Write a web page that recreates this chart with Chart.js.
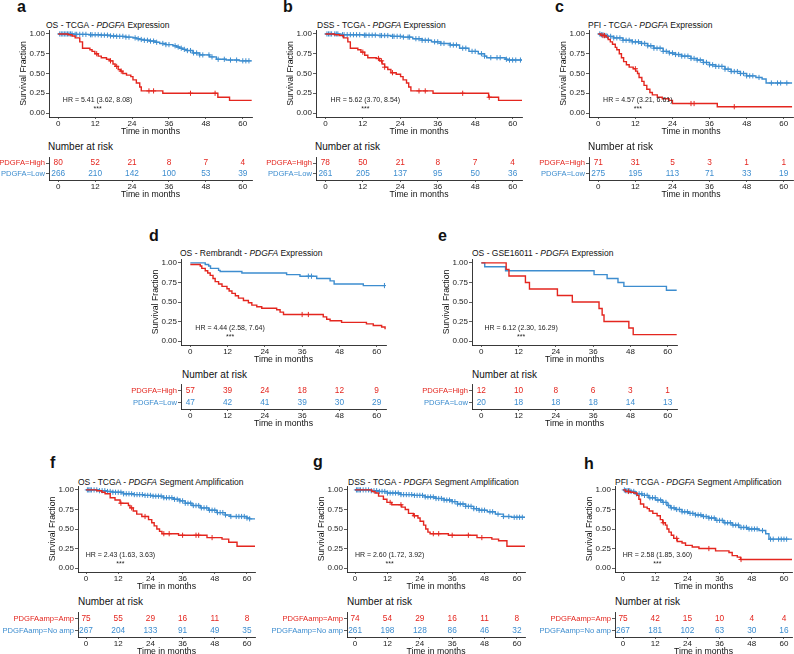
<!DOCTYPE html>
<html>
<head>
<meta charset="utf-8">
<script src="https://cdn.jsdelivr.net/npm/chart.js@4.4.1/dist/chart.umd.min.js"></script>
<style>
    body { margin: 0; background: #fff; }
    #fig { position: relative; width: 794px; height: 654px; overflow: hidden;
           font-family: "Liberation Sans", Arial, sans-serif; color: #111; }
    #fig canvas { position: absolute; }
    .letter { position: absolute; font-size: 16px; line-height: 16px; font-weight: bold; }
    .ttl { position: absolute; font-size: 8.5px; line-height: 10px; white-space: nowrap; }
    .nar { position: absolute; font-size: 10px; line-height: 12px; white-space: nowrap; }
</style>
</head>
<body>
<div id="fig"></div>
<script>
/* ======================
   DATA
====================== */
const TIME_TICKS = [0, 12, 24, 36, 48, 60];
const SURV_TICKS = [0, 0.25, 0.5, 0.75, 1];
const RISK_TIMES = [0, 12, 24, 36, 48, 60];

// a - OS TCGA expression
const A_HIGH = [[0,1],[3.2,0.99],[4.5,0.975],[5.5,0.95],[7,0.9],[7.9,0.82],[10.3,0.8],[11,0.78],[11.9,0.75],[13,0.72],[14,0.7],[15.7,0.68],[16.8,0.66],[17.8,0.62],[18.5,0.59],[19.5,0.55],[20.2,0.53],[21,0.5],[22.2,0.48],[23.6,0.46],[24.3,0.42],[25.4,0.38],[26.5,0.33],[27,0.28],[34,0.25],[51.9,0.2],[55.7,0.16],[62.9,0.16]];
const A_LOW = [[0,1],[5,0.995],[10,0.99],[14,0.985],[17,0.975],[19,0.97],[22,0.96],[24.3,0.95],[25.5,0.94],[26.5,0.93],[28,0.92],[29.7,0.91],[31.5,0.895],[33,0.88],[35,0.865],[37.3,0.85],[38.5,0.835],[39.5,0.82],[40.5,0.805],[41.6,0.79],[43.8,0.76],[46,0.735],[49.2,0.71],[51.4,0.68],[54.6,0.67],[58.9,0.66],[62.9,0.66]];
const A_HIGH_CENS = [12.5, 17, 19, 20.5, 29.5, 31, 43, 51];
const A_LOW_CENS = [0.5,1,1.5,2,2.5,3,3.5,4,4.5,5.5,6,7,8,9,10.5,11,12,13,14,15,16,17,18,19,20,21,22,23,25,26,27,28,29,30,31,32,34,35,36,38,39,40,41,42,43,44,45,46,47,49,50,52,54,56,58,60,61,62];
const A_RISK_HIGH = [80, 52, 21, 8, 7, 4];
const A_RISK_LOW = [266, 210, 142, 100, 53, 39];

// b - DSS TCGA expression
const B_HIGH = [[0,1],[2.9,0.99],[4.5,0.98],[5.8,0.95],[7.2,0.9],[8,0.82],[10.4,0.8],[11.4,0.77],[12.6,0.73],[13.6,0.7],[16.3,0.69],[17.4,0.66],[18.2,0.62],[19,0.58],[20,0.55],[21,0.51],[22.7,0.49],[24.1,0.46],[24.9,0.42],[26,0.38],[26.7,0.33],[27.4,0.28],[34.5,0.25],[52.3,0.2],[55.5,0.16],[63,0.16]];
const B_LOW = [[0,1],[5,0.99],[12,0.985],[17,0.98],[21,0.97],[25,0.96],[28,0.94],[31,0.92],[34,0.9],[37,0.88],[40,0.86],[43,0.82],[46,0.78],[49,0.75],[51,0.72],[51.7,0.7],[57.6,0.68],[58.5,0.67],[63,0.67]];
const B_HIGH_CENS = [12, 17, 18, 19, 21.5, 30, 32, 44, 52.5];
const B_LOW_CENS = [0.5,1,1.5,2,3,3.5,4,5.5,6,7,8,9,10,11,12.5,13,14,15,16,17.5,18,19,20,21.5,22,23,24,25,26.5,27,29,30,31,32,33,35,36,37,38,40,41,42,44,45,47,48,50,51,53,55,56,58,59,60,61,62.5];
const B_RISK_HIGH = [78, 50, 21, 8, 7, 4];
const B_RISK_LOW = [261, 205, 137, 95, 50, 36];

// c - PFI TCGA expression
const C_HIGH = [[0,1],[0.9,0.98],[2.5,0.96],[3.2,0.93],[3.9,0.9],[4.6,0.87],[5.5,0.83],[6,0.8],[6.8,0.75],[7.5,0.7],[8.2,0.65],[9.1,0.61],[10,0.58],[11.3,0.56],[12.1,0.53],[12.7,0.5],[13.2,0.45],[14.1,0.4],[14.8,0.35],[15.7,0.3],[16.7,0.26],[17.5,0.23],[19.1,0.2],[20.7,0.18],[22.9,0.16],[24,0.12],[38.5,0.08],[62.7,0.08]];
const C_LOW = [[0,1],[1,0.99],[2,0.98],[3,0.97],[5,0.95],[8,0.92],[11,0.9],[14,0.88],[16,0.85],[18,0.82],[21,0.78],[23,0.76],[25,0.74],[27,0.72],[30,0.69],[32,0.67],[34,0.64],[36,0.61],[38,0.59],[41,0.555],[43,0.525],[46,0.5],[48,0.47],[51,0.45],[53,0.43],[54.3,0.38],[62.7,0.38]];
const C_HIGH_CENS = [1.5, 2, 12, 30, 31, 44];
const C_LOW_CENS = [0.5,1,1.5,2,2.5,3,4,5,6,7,8,9,10,11,12,13,14,15,16,17,18,19,20,21,22,23,24,25,26,27,28,29,30,31,32,33,34,35,36,37,38,39,40,41,42,43,44,45,46,47,48,49,50,52,56,58,59,61];
const C_RISK_HIGH = [71, 31, 5, 3, 1, 1];
const C_RISK_LOW = [275, 195, 113, 71, 33, 19];

// d - OS Rembrandt
const D_HIGH = [[0,0.98],[3.2,0.96],[3.7,0.93],[4.8,0.9],[5.6,0.87],[6.4,0.84],[7.3,0.8],[8,0.76],[9.1,0.73],[10.2,0.7],[11.8,0.67],[12.5,0.64],[13.4,0.61],[14.5,0.58],[15.5,0.55],[17.1,0.52],[18.7,0.49],[19.8,0.46],[21.4,0.44],[23,0.42],[27.8,0.4],[28.9,0.37],[30,0.34],[42.8,0.31],[43.9,0.28],[45,0.26],[48.7,0.24],[56.7,0.22],[58.9,0.2],[61.6,0.18],[62.7,0.15]];
const D_LOW = [[0,1],[4.8,0.98],[5.9,0.96],[6.5,0.93],[9.1,0.905],[9.6,0.89],[16.6,0.87],[31,0.85],[35.3,0.83],[40.7,0.8],[45,0.77],[46.3,0.73],[55.7,0.71],[62.7,0.71]];
const D_HIGH_CENS = [36, 38];
const D_LOW_CENS = [38, 39, 62.5];
const D_RISK_HIGH = [57, 39, 24, 18, 12, 9];
const D_RISK_LOW = [47, 42, 41, 39, 30, 29];

// e - OS GSE16011
const E_HIGH = [[0,1],[8,0.917],[8.9,0.833],[14.2,0.75],[15.5,0.667],[24.5,0.583],[29.3,0.5],[37.9,0.417],[38.9,0.333],[39.5,0.25],[47.5,0.167],[48.9,0.083],[62.9,0.083]];
const E_LOW = [[0,1],[1.1,0.95],[7.8,0.9],[36.3,0.85],[40.5,0.8],[44,0.75],[45.9,0.7],[59.6,0.65],[62.9,0.65]];
const E_HIGH_CENS = [];
const E_LOW_CENS = [];
const E_RISK_HIGH = [12, 10, 8, 6, 3, 1];
const E_RISK_LOW = [20, 18, 18, 18, 14, 13];

// f - OS TCGA amplification
const F_AMP = [[0,1],[4,0.99],[5.9,0.97],[7.1,0.95],[9,0.9],[10.8,0.87],[12.7,0.83],[15.8,0.8],[16.4,0.77],[17.6,0.73],[18.9,0.69],[20.8,0.66],[23.3,0.62],[24.5,0.58],[25.4,0.54],[26.4,0.5],[27.4,0.47],[28.3,0.44],[34.5,0.42],[45.1,0.39],[50.7,0.37],[53.2,0.33],[56.3,0.28],[63,0.28]];
const F_NOAMP = [[0,1],[5,0.99],[8,0.98],[10,0.97],[14,0.95],[17.7,0.94],[21.4,0.93],[25,0.92],[28.9,0.9],[32.6,0.88],[35,0.86],[37,0.83],[39.5,0.8],[42.6,0.77],[45.7,0.74],[48.8,0.71],[51.9,0.68],[53.8,0.66],[60,0.64],[61,0.63],[63,0.63]];
const F_AMP_CENS = [13, 17, 22, 29, 31, 36, 41, 42, 47];
const F_NOAMP_CENS = [0.5,1,1.5,2,3,4,5,6,7,8,9,10,11,12,13,14,15,16,17,18,19,20,21,22,23,24,25,26,27,28,29,30,31,32,33,34,35,36,37,38,39,40,41,42,43,44,45,46,47,48,49,50,51,52,54,56,57,58,59,60,61];
const F_RISK_AMP = [75, 55, 29, 16, 11, 8];
const F_RISK_NOAMP = [267, 204, 133, 91, 49, 35];

// g - DSS TCGA amplification
const G_AMP = [[0,1],[6.2,0.98],[7.4,0.96],[8.7,0.92],[10.5,0.88],[11.8,0.84],[13.6,0.81],[17.3,0.78],[18.6,0.75],[19.8,0.7],[21.6,0.67],[23.3,0.64],[24.1,0.6],[25.4,0.55],[26.2,0.5],[27,0.46],[27.8,0.44],[34.6,0.42],[45.2,0.39],[50.7,0.37],[53.2,0.35],[56.3,0.28],[63,0.28]];
const G_NOAMP = [[0,1],[6,0.99],[9,0.98],[12,0.96],[17,0.94],[22,0.93],[26,0.91],[30,0.89],[33,0.87],[36,0.85],[38,0.82],[41,0.79],[44,0.76],[46,0.74],[49,0.72],[52,0.69],[55,0.66],[58,0.65],[63,0.65]];
const G_AMP_CENS = [13, 17, 22, 29, 31, 36, 42, 47];
const G_NOAMP_CENS = [0.5,1,1.5,2,3,4,5,6,7,8,9,10,11,12,13,14,15,16,17,18,19,20,21,22,23,24,25,26,27,28,29,30,31,32,33,34,35,36,37,38,39,40,41,42,43,44,45,46,47,48,50,51,53,55,57,59,60,61,62];
const G_RISK_AMP = [74, 54, 29, 16, 11, 8];
const G_RISK_NOAMP = [261, 198, 128, 86, 46, 32];

// h - PFI TCGA amplification
const H_AMP = [[0,1],[0.9,0.98],[2.7,0.97],[4,0.96],[5.2,0.93],[5.9,0.88],[6.5,0.82],[7.7,0.78],[9,0.76],[9.8,0.73],[11.1,0.7],[12.7,0.67],[13.9,0.62],[14.8,0.58],[15.8,0.55],[16.4,0.5],[17.1,0.46],[18,0.42],[18.9,0.38],[20.2,0.34],[22,0.32],[23.3,0.29],[25.8,0.27],[28.3,0.25],[34.5,0.22],[39.5,0.2],[40.7,0.16],[42.6,0.14],[43.8,0.11],[63,0.11]];
const H_NOAMP = [[0,1],[1,0.99],[3,0.98],[4.6,0.95],[7.1,0.93],[9.6,0.9],[12.1,0.87],[14.6,0.84],[16.4,0.8],[17.7,0.77],[19.5,0.75],[22,0.72],[24.5,0.7],[27,0.68],[29.5,0.66],[32,0.64],[34.5,0.61],[37.6,0.58],[40.7,0.55],[43.2,0.52],[46.3,0.5],[50.7,0.48],[53.2,0.44],[54.4,0.37],[63,0.37]];
const H_AMP_CENS = [2, 15, 20, 32, 44];
const H_NOAMP_CENS = [0.5,1,1.5,2,2.5,3,4,5,6,7,8,9,10,11,12,13,14,15,16,17,18,19,20,21,22,23,24,25,26,27,28,29,30,31,32,33,34,35,36,37,38,39,40,41,42,43,44,45,46,47,48,49,50,52,55,56,58,59,60,61];
const H_RISK_AMP = [75, 42, 15, 10, 4, 4];
const H_RISK_NOAMP = [267, 181, 102, 63, 30, 16];

const EXPR_ROWS = ["PDGFA=High", "PDGFA=Low"];
const AMP_ROWS = ["PDGFAamp=Amp", "PDGFAamp=No amp"];

/* ======================
   STYLE / LAYOUT
====================== */
const RED = "#e4261f";
const BLUE = "#3d8dcf";
const FONT = '"Liberation Sans", Arial, sans-serif';
Chart.defaults.font.family = FONT;

const PANELS = [
    { letter: "a", lx: 17, lb: 12, pre: "OS - TCGA - ", post: " Expression", tx: 46, ty: 25,
      L: 49, R: 252, T: 30, B: 117, nx: 48, ny: 147, tabB: 180, gap: 11,
      hi: A_HIGH, lo: A_LOW, hiC: A_HIGH_CENS, loC: A_LOW_CENS, rHi: A_RISK_HIGH, rLo: A_RISK_LOW,
      rows: EXPR_ROWS, hr: "HR = 5.41 (3.62, 8.08)" },
    { letter: "b", lx: 283, lb: 12, pre: "DSS - TCGA - ", post: " Expression", tx: 317, ty: 25,
      L: 316, R: 522, T: 30, B: 117, nx: 315, ny: 147, tabB: 180, gap: 11,
      hi: B_HIGH, lo: B_LOW, hiC: B_HIGH_CENS, loC: B_LOW_CENS, rHi: B_RISK_HIGH, rLo: B_RISK_LOW,
      rows: EXPR_ROWS, hr: "HR = 5.62 (3.70, 8.54)" },
    { letter: "c", lx: 555, lb: 12, pre: "PFI - TCGA - ", post: " Expression", tx: 588, ty: 25,
      L: 589, R: 793, T: 30, B: 117, nx: 588, ny: 147, tabB: 180, gap: 11,
      hi: C_HIGH, lo: C_LOW, hiC: C_HIGH_CENS, loC: C_LOW_CENS, rHi: C_RISK_HIGH, rLo: C_RISK_LOW,
      rows: EXPR_ROWS, hr: "HR = 4.57 (3.21, 6.61)" },
    { letter: "d", lx: 149, lb: 241, pre: "OS - Rembrandt - ", post: " Expression", tx: 180, ty: 253,
      L: 181, R: 386, T: 259, B: 345, nx: 182, ny: 375, tabB: 409, gap: 12,
      hi: D_HIGH, lo: D_LOW, hiC: D_HIGH_CENS, loC: D_LOW_CENS, rHi: D_RISK_HIGH, rLo: D_RISK_LOW,
      rows: EXPR_ROWS, hr: "HR = 4.44 (2.58, 7.64)" },
    { letter: "e", lx: 438, lb: 241, pre: "OS - GSE16011 - ", post: " Expression", tx: 472, ty: 253,
      L: 472, R: 677, T: 259, B: 345, nx: 472, ny: 375, tabB: 409, gap: 12,
      hi: E_HIGH, lo: E_LOW, hiC: E_HIGH_CENS, loC: E_LOW_CENS, rHi: E_RISK_HIGH, rLo: E_RISK_LOW,
      rows: EXPR_ROWS, hr: "HR = 6.12 (2.30, 16.29)" },
    { letter: "f", lx: 50, lb: 468, pre: "OS - TCGA - ", post: " Segment Amplification", tx: 78, ty: 482,
      L: 78, R: 255, T: 486, B: 572, nx: 78, ny: 602, tabB: 637, gap: 12,
      hi: F_AMP, lo: F_NOAMP, hiC: F_AMP_CENS, loC: F_NOAMP_CENS, rHi: F_RISK_AMP, rLo: F_RISK_NOAMP,
      rows: AMP_ROWS, hr: "HR = 2.43 (1.63, 3.63)" },
    { letter: "g", lx: 313, lb: 467, pre: "DSS - TCGA - ", post: " Segment Amplification", tx: 348, ty: 482,
      L: 347, R: 525, T: 486, B: 572, nx: 347, ny: 602, tabB: 637, gap: 12,
      hi: G_AMP, lo: G_NOAMP, hiC: G_AMP_CENS, loC: G_NOAMP_CENS, rHi: G_RISK_AMP, rLo: G_RISK_NOAMP,
      rows: AMP_ROWS, hr: "HR = 2.60 (1.72, 3.92)" },
    { letter: "h", lx: 584, lb: 469, pre: "PFI - TCGA - ", post: " Segment Amplification", tx: 615, ty: 482,
      L: 615, R: 792, T: 486, B: 572, nx: 615, ny: 602, tabB: 637, gap: 12,
      hi: H_AMP, lo: H_NOAMP, hiC: H_AMP_CENS, loC: H_NOAMP_CENS, rHi: H_RISK_AMP, rLo: H_RISK_NOAMP,
      rows: AMP_ROWS, hr: "HR = 2.58 (1.85, 3.60)" }
];

const fig = document.getElementById("fig");

function addDiv(cls, x, y, html) {
    const d = document.createElement("div");
    d.className = cls;
    d.style.left = x + "px";
    d.style.top = y + "px";
    d.innerHTML = html;
    fig.appendChild(d);
}

function addCanvas(x, y, w, h) {
    const c = document.createElement("canvas");
    c.width = Math.round(w);
    c.height = Math.round(h);
    c.style.left = Math.round(x) + "px";
    c.style.top = Math.round(y) + "px";
    c.style.width = Math.round(w) + "px";
    c.style.height = Math.round(h) + "px";
    fig.appendChild(c);
    return c;
}

// survival value of a step curve at time t (last step at or before t)
function survAt(curve, t) {
    let s = curve[0][1];
    curve.forEach(p => { if (p[0] <= t) s = p[1]; });
    return s;
}

const xy = arr => arr.map(p => ({ x: p[0], y: p[1] }));
const cens = (curve, times) => times.map(t => ({ x: t, y: survAt(curve, t) }));

function timeAxis() {
    return {
        type: "linear", min: -3, max: 63,
        afterBuildTicks: s => { s.ticks = TIME_TICKS.map(v => ({ value: v })); },
        afterFit: s => { s.height = 20; },
        grid: { drawOnChartArea: false, tickLength: 2, color: "#333", lineWidth: 0.8 },
        border: { color: "#222", width: 0.9 },
        ticks: { font: { size: 8 }, color: "#222", padding: 0, maxRotation: 0, autoSkip: false },
        title: { display: true, text: "Time in months", font: { size: 8.7 }, color: "#111", padding: 0 }
    };
}

/* ======================
   PLUGINS
====================== */
const kmNote = {
    id: "kmNote",
    afterDatasetsDraw(chart, args, opts) {
        if (!opts.hr) return;
        const { ctx, scales: { x, y } } = chart;
        ctx.save();
        ctx.fillStyle = "#222";
        ctx.textAlign = "center";
        ctx.textBaseline = "middle";
        ctx.font = "7px " + FONT;
        ctx.fillText(opts.hr, x.getPixelForValue(12.8), y.getPixelForValue(0.17));
        ctx.fillText("***", x.getPixelForValue(12.8), y.getPixelForValue(0.05));
        ctx.restore();
    }
};

const riskNums = {
    id: "riskNums",
    afterDatasetsDraw(chart) {
        const ctx = chart.ctx;
        ctx.save();
        ctx.textAlign = "center";
        ctx.textBaseline = "middle";
        ctx.font = "8.3px " + FONT;
        chart.data.datasets.forEach((ds, i) => {
            const meta = chart.getDatasetMeta(i);
            ctx.fillStyle = ds.borderColor;
            meta.data.forEach((pt, j) => ctx.fillText(String(ds.data[j].n), pt.x, pt.y));
        });
        ctx.restore();
    }
};

/* ======================
   KM CHART
====================== */
function kmChart(p) {
    const padTop = 8, padRight = 6, yW = 31, xH = 20;
    const cv = addCanvas(p.L - yW, p.T - padTop, p.R - p.L + yW + padRight, p.B - p.T + padTop + xH);
    const line = (d, c) => ({ data: xy(d), borderColor: c, backgroundColor: c, showLine: true,
        stepped: true, pointRadius: 0, borderWidth: 1.4, fill: false });
    const marks = (d, t, c) => ({ data: cens(d, t), borderColor: c, backgroundColor: c, showLine: false,
        pointStyle: "cross", pointRadius: 2.6, borderWidth: 1 });

    new Chart(cv, {
        type: "scatter",
        data: {
            datasets: [
                marks(p.hi, p.hiC, RED),
                line(p.hi, RED),
                marks(p.lo, p.loC, BLUE),
                line(p.lo, BLUE)
            ]
        },
        options: {
            responsive: false,
            animation: false,
            events: [],
            layout: { padding: { top: padTop, right: padRight, left: 0, bottom: 0 } },
            plugins: { legend: { display: false }, tooltip: { enabled: false }, kmNote: { hr: p.hr } },
            scales: {
                x: timeAxis(),
                y: {
                    type: "linear", min: -0.05, max: 1.05,
                    afterBuildTicks: s => { s.ticks = SURV_TICKS.map(v => ({ value: v })); },
                    afterFit: s => { s.width = yW; },
                    grid: { drawOnChartArea: false, tickLength: 3, color: "#333", lineWidth: 0.8 },
                    border: { color: "#222", width: 0.9 },
                    ticks: { font: { size: 8 }, color: "#222", padding: 1, autoSkip: false,
                             callback: v => v.toFixed(2) },
                    title: { display: true, text: "Survival Fraction", font: { size: 8.7 }, color: "#111", padding: 0 }
                }
            }
        },
        plugins: [kmNote]
    });
}

/* ======================
   RISK TABLE
====================== */
function riskChart(p) {
    const padTop = 8, padRight = 6, yW = 90, xH = 20;
    const T = p.tabB - 2.1 * p.gap;
    const cv = addCanvas(p.L - yW, T - padTop, p.R - p.L + yW + padRight, p.tabB - T + padTop + xH);
    const row = (vals, y, c) => ({
        data: vals.map((n, j) => ({ x: RISK_TIMES[j], y: y, n: n })),
        borderColor: c, backgroundColor: c, pointRadius: 0, showLine: false
    });

    new Chart(cv, {
        type: "scatter",
        data: { datasets: [row(p.rHi, 1, RED), row(p.rLo, 0, BLUE)] },
        options: {
            responsive: false,
            animation: false,
            events: [],
            layout: { padding: { top: padTop, right: padRight, left: 0, bottom: 0 } },
            plugins: { legend: { display: false }, tooltip: { enabled: false } },
            scales: {
                x: timeAxis(),
                y: {
                    type: "linear", min: -0.55, max: 1.55,
                    afterBuildTicks: s => { s.ticks = [{ value: 1 }, { value: 0 }]; },
                    afterFit: s => { s.width = yW; },
                    grid: { drawOnChartArea: false, tickLength: 3, color: "#333", lineWidth: 0.8 },
                    border: { color: "#222", width: 0.9 },
                    ticks: { font: { size: 7.6 }, padding: 1, autoSkip: false,
                             color: ctx => (ctx.tick && ctx.tick.value === 1 ? RED : BLUE),
                             callback: v => (v === 1 ? p.rows[0] : p.rows[1]) }
                }
            }
        },
        plugins: [riskNums]
    });
}

/* ======================
   BUILD FIGURE
====================== */
PANELS.forEach(p => {
    addDiv("letter", p.lx, p.lb - 13.5, p.letter);
    addDiv("ttl", p.tx, p.ty - 5, p.pre + "<i>PDGFA</i>" + p.post);
    addDiv("nar", p.nx, p.ny - 6, "Number at risk");
    kmChart(p);
    riskChart(p);
});
</script>
</body>
</html>
